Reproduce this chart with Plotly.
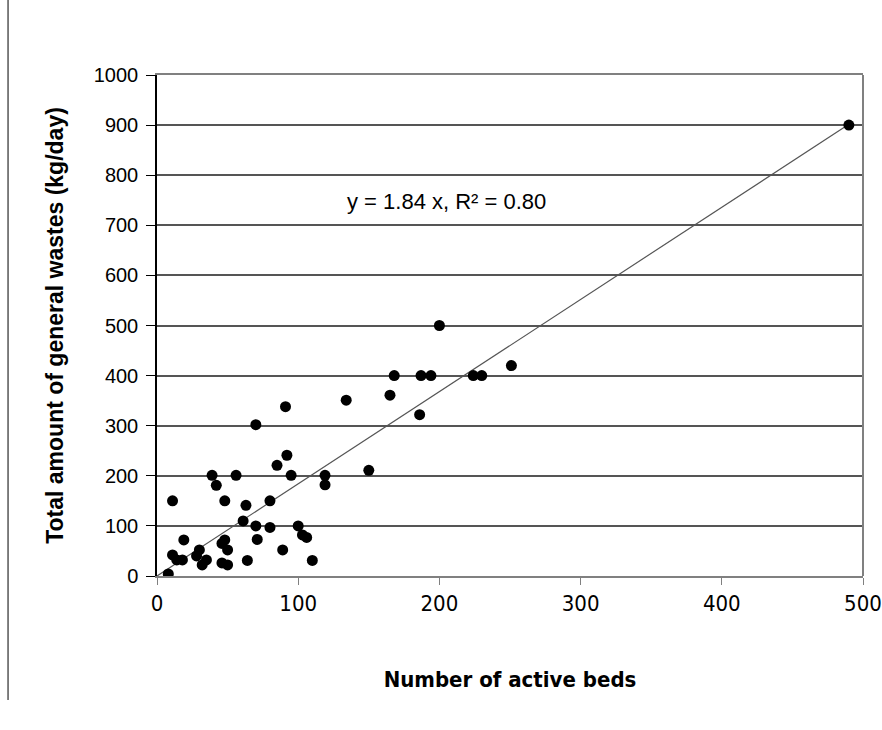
import plotly.graph_objects as go

beds = [8, 11, 11, 14, 18, 19, 28, 30, 32, 35, 39, 42, 46, 48, 50, 46, 50, 48, 56, 61,
        63, 64, 70, 70, 71, 80, 80, 85, 89, 91, 92, 95, 100, 103, 106, 110, 119, 119,
        134, 150, 165, 168, 186, 187, 194, 200, 224, 230, 251, 490]
wastes = [4, 150, 42, 32, 32, 72, 40, 52, 22, 32, 201, 181, 65, 72, 52, 26, 22, 150, 201, 110,
          141, 31, 302, 100, 73, 150, 97, 221, 52, 338, 241, 201, 100, 82, 77, 31, 201, 182,
          351, 211, 361, 400, 322, 400, 400, 500, 400, 400, 420, 900]
slope = 1.84
fit_x = [0, 490]
fit_y = [slope * v for v in fit_x]
x_ticks = [0, 100, 200, 300, 400, 500]
y_ticks = [0, 100, 200, 300, 400, 500, 600, 700, 800, 900, 1000]

fig = go.Figure()
fig.add_trace(go.Scatter(x=fit_x, y=fit_y, mode="lines",
                         line=dict(color="#555555", width=1.2), hoverinfo="skip"))
fig.add_trace(go.Scatter(x=beds, y=wastes, mode="markers",
                         marker=dict(color="black", size=11)))

fig.update_layout(
    width=882, height=730,
    margin=dict(l=157, r=19, t=75, b=154),
    paper_bgcolor="white", plot_bgcolor="white",
    showlegend=False,
    font=dict(family="Liberation Sans, Arial", color="black"),
    xaxis=dict(range=[0, 500], tickvals=x_ticks, showgrid=False, zeroline=False,
               automargin=False,
               showline=True, linecolor="#808080", linewidth=1.5, mirror=True,
               ticks="outside", ticklen=7, tickcolor="#808080",
               tickfont=dict(family="DejaVu Sans Condensed, Liberation Sans", size=22, color="black"),
               title=dict(text="<b>Number of active beds</b>", standoff=56,
                          font=dict(family="DejaVu Sans Condensed", size=22, color="black"))),
    yaxis=dict(range=[0, 1000], tickvals=y_ticks, showgrid=True, gridcolor="#555555",
               gridwidth=1.5, zeroline=False, automargin=False,
               showline=True, linecolor="black", linewidth=1.5,
               ticks="outside", ticklen=9, tickcolor="black", ticklabelstandoff=4,
               tickfont=dict(family="Liberation Sans, Arial", size=20, color="black"),
               title=dict(text="<b>Total amount of general wastes (kg/day)</b>", standoff=24,
                          font=dict(family="Liberation Sans, Arial", size=23, color="black"))),
    annotations=[dict(x=205, y=747, xref="x", yref="y", showarrow=False,
                      text="y = 1.84 x, R² = 0.80",
                      font=dict(family="Liberation Sans, Arial", size=22, color="black"))],
    shapes=[dict(type="line", xref="paper", yref="paper",
                 x0=-0.211, x1=-0.211, y0=1.15, y1=-0.2475,
                 line=dict(color="black", width=1)),
            dict(type="line", xref="paper", yref="paper",
                 x0=1, x1=1, y0=0, y1=1,
                 line=dict(color="#808080", width=2))],
)
fig.write_html("out.html")
